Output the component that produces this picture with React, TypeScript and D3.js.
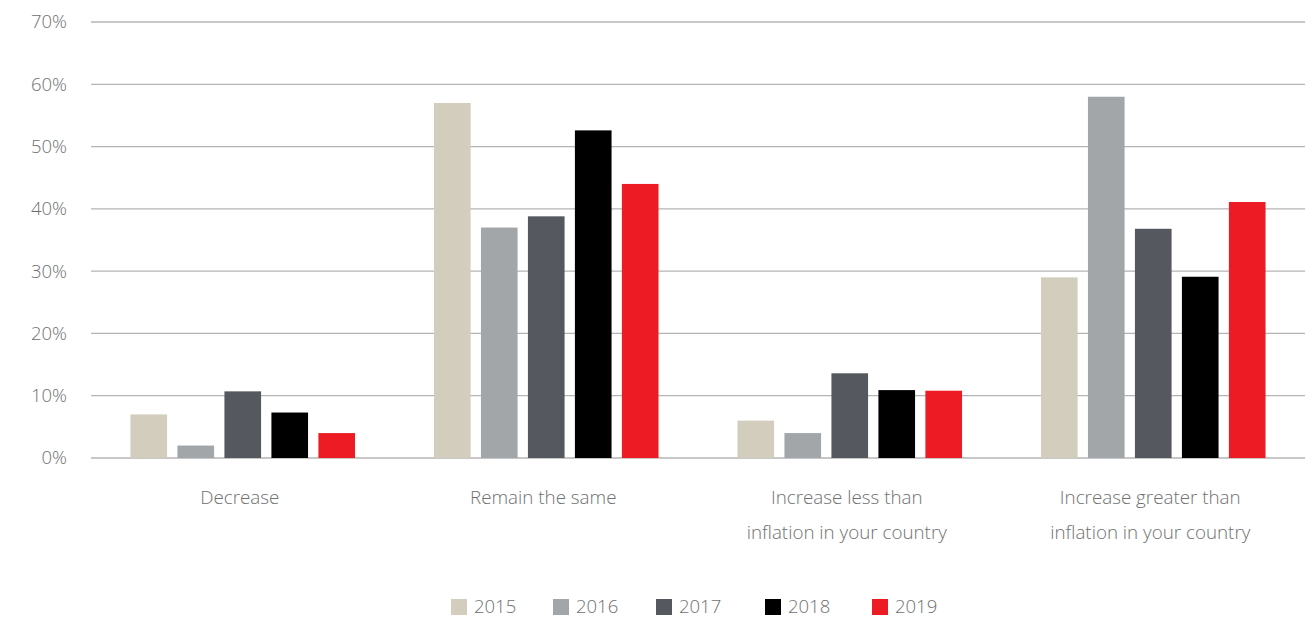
import React from "react";
import * as d3 from "d3";

const categories = [
  ["Decrease"],
  ["Remain the same"],
  ["Increase less than", "inflation in your country"],
  ["Increase greater than", "inflation in your country"],
];
const years = ["2015", "2016", "2017", "2018", "2019"];
const s2015 = [7, 57, 6, 29];
const s2016 = [2, 37, 4, 58];
const s2017 = [10.7, 38.8, 13.6, 36.8];
const s2018 = [7.3, 52.6, 10.9, 29.1];
const s2019 = [4, 44, 10.8, 41.1];
const seriesValues = [s2015, s2016, s2017, s2018, s2019];
const colors = ["#d3cdbd", "#a3a6a9", "#55585f", "#000000", "#ed1c24"];
const yTicks = [0, 10, 20, 30, 40, 50, 60, 70];

const W = 1316;
const H = 618;
const left = 91;
const right = 1305;
const top = 22;
const bottom = 458;

export default function App() {
  const x0 = d3.scaleBand<number>().domain(categories.map((_, i) => i)).range([left, right]).padding(0);
  const x1 = d3
    .scaleBand<string>()
    .domain(years)
    .range([0, x0.bandwidth()])
    .paddingInner(0.22)
    .paddingOuter(0.84);
  const y = d3.scaleLinear().domain([0, 70]).range([bottom, top]);
  const font = "'Open Sans', sans-serif";
  const textColor = "#707070";

  const legendX = [451, 553, 656, 765, 872];

  return (
    <svg width={W} height={H} style={{ position: "absolute", left: 0, top: 0 }} fontFamily={font}>
      <rect width={W} height={H} fill="#fff" />
      {yTicks.map((t) => (
        <g key={t}>
          <line x1={left} x2={right} y1={y(t)} y2={y(t)} stroke="#b5b5b5" strokeWidth={1.3} />
          <text x={67} y={y(t)} dy="0.35em" textAnchor="end" fontSize={18.5} fill={textColor} fontWeight={300}>
            {t}%
          </text>
        </g>
      ))}
      {categories.map((c, ci) =>
        years.map((yr, si) => {
          const v = seriesValues[si][ci];
          return (
            <rect
              key={ci + "-" + yr}
              x={(x0(ci) as number) + (x1(yr) as number)}
              y={y(v)}
              width={x1.bandwidth()}
              height={y(0) - y(v)}
              fill={colors[si]}
            />
          );
        })
      )}
      {categories.map((c, ci) =>
        c.map((line, li) => (
          <text
            key={ci + "-" + li}
            x={(x0(ci) as number) + x0.bandwidth() / 2 - 3}
            y={497 + li * 35}
            dy="0.35em"
            textAnchor="middle"
            fontSize={18.8}
            fill={textColor}
            fontWeight={300}
          >
            {line}
          </text>
        ))
      )}
      {years.map((yr, i) => (
        <g key={yr}>
          <rect x={legendX[i]} y={599} width={16} height={16} fill={colors[i]} />
          <text x={legendX[i] + 23} y={607} dy="0.35em" fontSize={18.5} fill={textColor} fontWeight={300}>
            {yr}
          </text>
        </g>
      ))}
    </svg>
  );
}
